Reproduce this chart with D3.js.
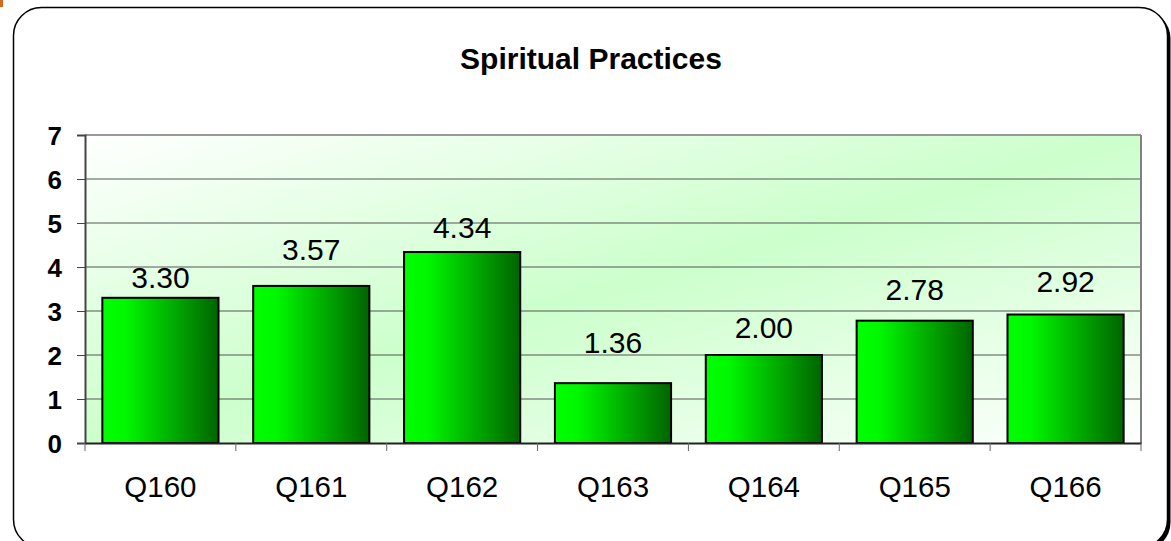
<!DOCTYPE html>
<html>
<head>
<meta charset="utf-8">
<script src="https://cdn.jsdelivr.net/npm/d3@7"></script>
<style>
  html, body { margin: 0; padding: 0; background: #fff; }
  svg { display: block; font-family: Arial, 'Liberation Sans', sans-serif; }
</style>
</head>
<body>
<svg id="chart"></svg>
<script>
const categories = ['Q160', 'Q161', 'Q162', 'Q163', 'Q164', 'Q165', 'Q166']
const values = [3.30, 3.57, 4.34, 1.36, 2.00, 2.78, 2.92]
const yTicks = [0, 1, 2, 3, 4, 5, 6, 7]

const svgWidth = 1171
const svgHeight = 541
const plot = { left: 85, top: 135, right: 1141, bottom: 443 }
// labels in the original were nudged by hand, this keeps them where they sat
const labelLift = [10, 26, 14, 30, 17, 21, 23]

const svg = d3.select('#chart')
  .attr('width', svgWidth)
  .attr('height', svgHeight)
  .attr('viewBox', [0, 0, svgWidth, svgHeight])

const defs = svg.append('defs')

const bg = defs.append('linearGradient')
  .attr('id', 'bg')
  .attr('x1', 0).attr('y1', 0).attr('x2', 1).attr('y2', 1)
bg.append('stop').attr('offset', '0%').attr('stop-color', '#ffffff')
bg.append('stop').attr('offset', '50%').attr('stop-color', '#ccffcc')
bg.append('stop').attr('offset', '100%').attr('stop-color', '#ffffff')

const barGrad = defs.append('linearGradient')
  .attr('id', 'bar')
  .attr('x1', 0).attr('y1', 0).attr('x2', 1).attr('y2', 0)
barGrad.append('stop').attr('offset', '0%').attr('stop-color', '#00ff00')
barGrad.append('stop').attr('offset', '20%').attr('stop-color', '#00f800')
barGrad.append('stop').attr('offset', '100%').attr('stop-color', '#006400')

// outer frame with shadow
svg.append('rect')
  .attr('x', 16.5).attr('y', 10.5)
  .attr('width', 1154).attr('height', 540)
  .attr('rx', 28)
  .attr('fill', '#000')
svg.append('rect')
  .attr('x', 13.5).attr('y', 7.5)
  .attr('width', 1154).attr('height', 540)
  .attr('rx', 28)
  .attr('fill', '#fff')
  .attr('stroke', '#000')
  .attr('stroke-width', 1.5)

// little orange mark in the top-left corner
svg.append('rect')
  .attr('x', 0).attr('y', 0).attr('width', 3).attr('height', 7)
  .attr('fill', '#d2691e')

const x = d3.scaleBand()
  .domain(categories)
  .range([plot.left, plot.right])
  .paddingInner(0.23)
  .paddingOuter(0.115)

const y = d3.scaleLinear()
  .domain([0, 7])
  .range([plot.bottom, plot.top])

// plot background
svg.append('rect')
  .attr('x', plot.left).attr('y', plot.top)
  .attr('width', plot.right - plot.left)
  .attr('height', plot.bottom - plot.top)
  .attr('fill', 'url(#bg)')

// grid lines
svg.append('g')
  .selectAll('line')
  .data(yTicks.filter((d) => d > 0 && d < 7))
  .join('line')
  .attr('x1', plot.left).attr('x2', plot.right)
  .attr('y1', (d) => y(d)).attr('y2', (d) => y(d))
  .attr('stroke', '#555')
  .attr('stroke-width', 1)

// plot border top and right
svg.append('line')
  .attr('x1', plot.left).attr('x2', plot.right)
  .attr('y1', y(7)).attr('y2', y(7))
  .attr('stroke', '#999').attr('stroke-width', 2)
svg.append('line')
  .attr('x1', plot.right).attr('x2', plot.right)
  .attr('y1', y(7)).attr('y2', y(0))
  .attr('stroke', '#808080').attr('stroke-width', 2)

// bars
svg.append('g')
  .selectAll('rect')
  .data(values)
  .join('rect')
  .attr('x', (d, i) => x(categories[i]))
  .attr('y', (d) => y(d))
  .attr('width', x.bandwidth())
  .attr('height', (d) => y(0) - y(d))
  .attr('fill', 'url(#bar)')
  .attr('stroke', '#000')
  .attr('stroke-width', 2)

// value labels
svg.append('g')
  .selectAll('text')
  .data(values)
  .join('text')
  .attr('x', (d, i) => x(categories[i]) + x.bandwidth() / 2)
  .attr('y', (d, i) => y(d) - labelLift[i])
  .attr('text-anchor', 'middle')
  .attr('font-size', 30)
  .attr('fill', '#000')
  .text((d) => d3.format('.2f')(d))

// y axis
const yAxis = d3.axisLeft(y).tickValues(yTicks).tickSize(8).tickFormat(d3.format('d'))
const gy = svg.append('g')
  .attr('transform', `translate(${plot.left},0)`)
  .call(yAxis)
gy.select('.domain').attr('stroke', '#444').attr('stroke-width', 2)
gy.selectAll('.tick line').attr('stroke', '#444')
gy.selectAll('.tick text')
  .attr('x', -23)
  .attr('dy', '0.36em')
  .attr('font-size', 26)
  .attr('font-weight', 'bold')
  .attr('font-family', 'Arial, Liberation Sans, sans-serif')
  .attr('fill', '#000')

// x axis: ticks sit between categories
const xAxis = d3.axisBottom(x).tickSize(0).tickSizeOuter(0)
const gx = svg.append('g')
  .attr('transform', `translate(0,${plot.bottom})`)
  .call(xAxis)
gx.select('.domain').attr('stroke', '#222').attr('stroke-width', 2)
gx.selectAll('.tick text')
  .attr('dy', 0)
  .attr('y', 54)
  .attr('font-size', 29.5)
  .attr('font-family', 'Arial, Liberation Sans, sans-serif')
  .attr('fill', '#000')

const boundaries = d3.range(categories.length + 1)
  .map((i) => plot.left + i * x.step())
gx.append('g')
  .selectAll('line')
  .data(boundaries)
  .join('line')
  .attr('x1', (d) => d).attr('x2', (d) => d)
  .attr('y1', 0).attr('y2', 8)
  .attr('stroke', '#666')
  .attr('stroke-width', 1)

// title
svg.append('text')
  .attr('x', 591)
  .attr('y', 69)
  .attr('text-anchor', 'middle')
  .attr('font-size', 30)
  .attr('font-weight', 'bold')
  .attr('fill', '#000')
  .text('Spiritual Practices')
</script>
</body>
</html>
